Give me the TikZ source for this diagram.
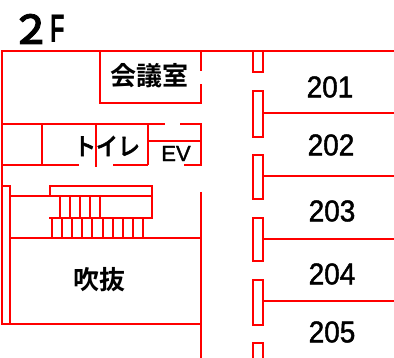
\documentclass[tikz,border=0pt]{standalone}
\usepackage{fontspec}
\setmainfont{Liberation Sans}
\newfontfamily\lsb[FakeBold=1.5]{Liberation Sans}
\newfontfamily\lsbb{Liberation Sans Bold}
\newfontfamily\cjk[FakeBold=2]{Noto Sans CJK JP Medium}
\newfontfamily\cjkb{Noto Sans CJK JP Bold}
\tikzset{
  wall/.style={draw={rgb,255:red,255;green,0;blue,0},line width=2pt,line cap=butt,line join=miter},
  lab/.style={text=black,inner sep=0pt,anchor=center},
  roomno/.style={lab,yscale=1.07},
}
\newcommand{\fs}[1]{\fontsize{#1pt}{#1pt}\selectfont}
\begin{document}
\begin{tikzpicture}[x=1pt,y=-1pt]
\useasboundingbox (0,0) rectangle (394,358);
\fill[white] (0,0) rectangle (394,358);
% outer
\draw[wall] (394,51) -- (2,51) -- (2,324.5) -- (201,324.5);
\draw[wall] (201,192) -- (201,358);
% meeting room
\draw[wall] (100,51) -- (100,103) -- (201,103) -- (201,84);
\draw[wall] (201,51) -- (201,71);
% toilet row
\draw[wall] (2,124) -- (165,124);
\draw[wall] (180,124) -- (201,124) -- (201,165) -- (184,165);
\draw[wall] (42,124) -- (42,165);
\draw[wall] (96,124) -- (96,167);
\draw[wall] (148,124) -- (148,165);
\draw[wall] (148,141) -- (201,141);
\draw[wall] (2,165) -- (79,165);
\draw[wall] (113,165) -- (148,165);
% stairs
\draw[wall] (2,186) -- (10,186) -- (10,324.5);
\draw[wall] (10,196.5) -- (152,196.5);
\draw[wall] (50,196.5) -- (50,186) -- (152,186) -- (152,218) -- (49,218);
\draw[wall] (10,238.5) -- (201,238.5);
\foreach \x in {60,70,80,90,100} \draw[wall] (\x,196.5) -- (\x,218);
\foreach \x in {52,62,72,82,92,103,113,123,133,143} \draw[wall] (\x,218) -- (\x,238.5);
% right rooms
\draw[wall] (252.5,51) -- (252.5,72) -- (262.5,72) -- (262.5,51);
\draw[wall] (252.5,91) rectangle (262.5,137);
\draw[wall] (252.5,155) rectangle (262.5,199);
\draw[wall] (252.5,218) rectangle (262.5,261);
\draw[wall] (252.5,280) rectangle (262.5,325);
\draw[wall] (252.5,358) -- (252.5,343) -- (262.5,343) -- (262.5,358);
\draw[wall] (262.5,113) -- (394,113);
\draw[wall] (262.5,176) -- (394,176);
\draw[wall] (262.5,239) -- (394,239);
\draw[wall] (262.5,301) -- (394,301);
% labels
\node[lab] (floor2) at (31,29) {\cjk\fs{40}２};
\node[lab,xscale=.6] (floorF) at (57.5,29) {\lsbb\fs{40}F};
\node[lab] (meet) at (149,76) {\cjkb\fs{26}会議室};
\node[lab,yscale=1.1] (wc) at (107,146) {\cjk\fs{22}トイレ};
\node[lab] (ev) at (176,153.5) {\lsb\fs{22}EV};
\node[lab] (void) at (99,280) {\cjkb\fs{26}吹抜};
\node[roomno] (r201) at (330,87) {\lsb\fs{28}201};
\node[roomno] (r202) at (331,145) {\lsb\fs{28}202};
\node[roomno] (r203) at (332,211) {\lsb\fs{28}203};
\node[roomno] (r204) at (332,274) {\lsb\fs{28}204};
\node[roomno] (r205) at (332,332) {\lsb\fs{28}205};
\end{tikzpicture}
\end{document}
